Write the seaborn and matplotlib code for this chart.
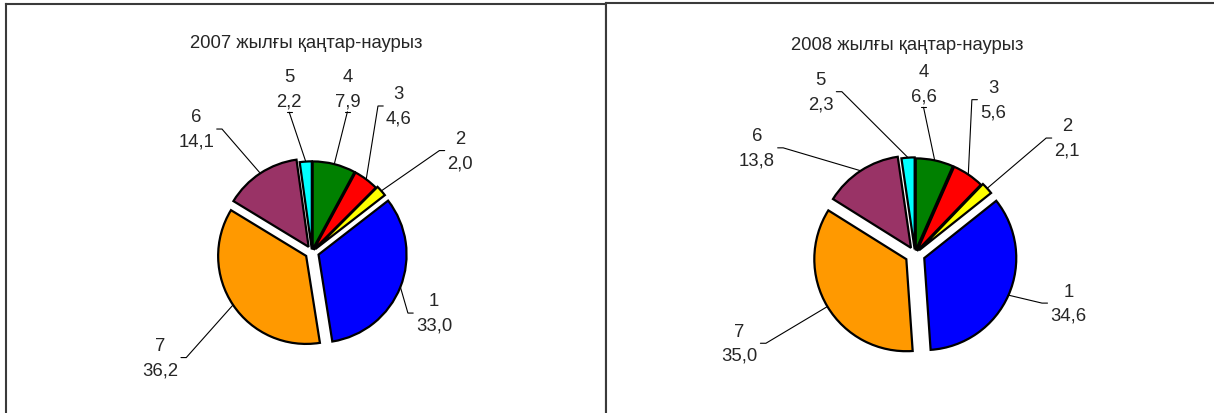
import numpy as np
import matplotlib
matplotlib.use("Agg")
import matplotlib.pyplot as plt
import seaborn as sns

# === Data ===
categories = ["1", "2", "3", "4", "5", "6", "7"]
share_2007 = [33.0, 2.0, 4.6, 7.9, 2.2, 14.1, 36.2]
share_2008 = [34.6, 2.1, 5.6, 6.6, 2.3, 13.8, 35.0]
titles = ["2007 жылғы қаңтар-наурыз", "2008 жылғы қаңтар-наурыз"]
colors = ["#0000FF", "#FFFF00", "#FF0000", "#008000", "#00FFFF", "#993366", "#FF9900"]

# === Style ===
sns.set_theme(style="white")
plt.rcParams["font.family"] = ["Liberation Sans", "DejaVu Sans"]

W, H = 1214, 414
fig = plt.figure(figsize=(W / 100, H / 100), dpi=100)

# panel geometry in pixels (box = x0, y0, x1, y1), pie centre and radius
panels = [
    dict(values=share_2007, title=titles[0], box=(6, 5, 606, 414), center=(312, 253), r=88,
         title_xy=(306, 43),
         explode=[0.08, 0.05, 0.03, 0.03, 0.03, 0.07, 0.08],
         lab_dist=[1.55, 2.04, 1.93, 1.90, 1.87, 1.92, 2.10],
         lab_nudge=[-5, -7, 6, 2, 4, 10, 1],
         spines=["left", "top", "right"]),
    dict(values=share_2008, title=titles[1], box=(606, 4, 1214, 414), center=(915, 255), r=92,
         title_xy=(907, 46),
         explode=[0.11, 0.06, 0.04, 0.04, 0.05, 0.08, 0.11],
         lab_dist=[1.75, 2.08, 1.88, 1.85, 2.04, 2.07, 2.14],
         lab_nudge=[6, -5, 7, 9, 26, 23, -4],
         spines=["left", "top"]),
]

leaders = []  # (ax, label text, point on wedge, label angle)

for p in panels:
    x0, y0, x1, y1 = p["box"]
    cx, cy = p["center"]
    r = p["r"]
    ax = fig.add_axes([x0 / W, 1 - y1 / H, (x1 - x0) / W, (y1 - y0) / H])

    vals = p["values"]
    # slice 4 ends at 12 o'clock, slices run counter-clockwise 1..7
    start = 90 - 360 * sum(vals[:4]) / sum(vals)
    wedges, _ = ax.pie(vals, colors=colors, startangle=start, counterclock=True,
                       explode=p["explode"], radius=1, frame=True,
                       wedgeprops=dict(edgecolor="black", linewidth=1.6))

    ax.set_xlim((x0 - cx) / r, (x1 - cx) / r)
    ax.set_ylim((cy - y1) / r, (cy - y0) / r)
    ax.set_aspect("auto")
    ax.set_xticks([])
    ax.set_yticks([])

    for side in ["left", "right", "top", "bottom"]:
        sp = ax.spines[side]
        if side in p["spines"]:
            sp.set_visible(True)
            sp.set_color("#3a3a3a")
            sp.set_linewidth(1.5)
        else:
            sp.set_visible(False)

    tx, ty = p["title_xy"]
    ax.text((tx - cx) / r, (cy - ty) / r, p["title"], ha="center", va="center", fontsize=13.3)

    for w, cat, v, d, nud in zip(wedges, categories, vals, p["lab_dist"], p["lab_nudge"]):
        mid = np.deg2rad((w.theta1 + w.theta2) / 2)
        ex, ey = w.center
        edge = (ex + np.cos(mid), ey + np.sin(mid))
        ang = mid + np.deg2rad(nud)
        lab = (d * np.cos(ang), d * np.sin(ang))
        txt = f"{cat}\n{v:.1f}".replace(".", ",")
        t = ax.text(lab[0], lab[1], txt, ha="center", va="center",
                    fontsize=13.3, linespacing=1.55)
        leaders.append((ax, t, edge, np.rad2deg(ang)))

# === Leader lines: Excel style, short horizontal tick at the label side ===
fig.canvas.draw()
for ax, t, edge, ang in leaders:
    bb = t.get_window_extent().transformed(ax.transData.inverted())
    xm = (bb.x0 + bb.x1) / 2
    ym = (bb.y0 + bb.y1) / 2
    gap = 0.03
    tick = 0.06
    if 75 <= ang % 360 <= 105:
        ax_pt = (xm, bb.y0 - gap)
        xs = [edge[0], ax_pt[0]]
        ys = [edge[1], ax_pt[1]]
        ax.plot([ax_pt[0] - tick / 2, ax_pt[0] + tick / 2], [ax_pt[1]] * 2,
                color="black", lw=0.8)
    else:
        if xm > 0:
            sx = bb.x0 - gap
            xs = [edge[0], sx - tick, sx]
        else:
            sx = bb.x1 + gap
            xs = [edge[0], sx + tick, sx]
        ys = [edge[1], ym, ym]
    ax.plot(xs, ys, color="black", lw=0.8, solid_joinstyle="miter")

fig.savefig("out.png", dpi=100, facecolor="white")
plt.close(fig)
